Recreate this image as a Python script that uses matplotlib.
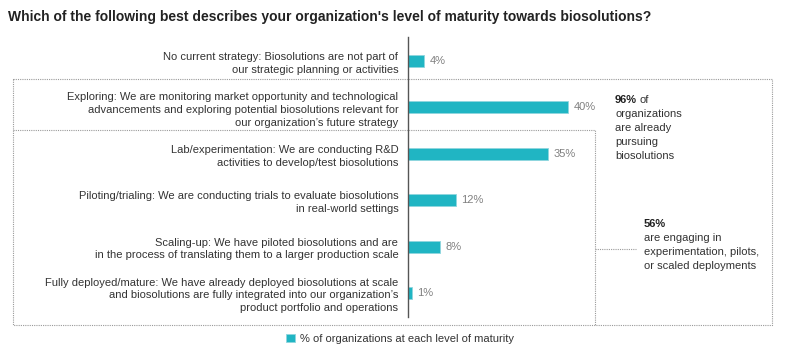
import matplotlib.pyplot as plt
from matplotlib.lines import Line2D
from matplotlib.patches import Patch

plt.rcParams['font.family'] = ['Liberation Sans', 'DejaVu Sans']

TITLE = "Which of the following best describes your organization's level of maturity towards biosolutions?"

stages = [
    "No current strategy: Biosolutions are not part of\nour strategic planning or activities",
    "Exploring: We are monitoring market opportunity and technological\nadvancements and exploring potential biosolutions relevant for\nour organization\u2019s future strategy",
    "Lab/experimentation: We are conducting R&D\nactivities to develop/test biosolutions",
    "Piloting/trialing: We are conducting trials to evaluate biosolutions\nin real-world settings",
    "Scaling-up: We have piloted biosolutions and are\nin the process of translating them to a larger production scale",
    "Fully deployed/mature: We have already deployed biosolutions at scale\nand biosolutions are fully integrated into our organization\u2019s\nproduct portfolio and operations",
]
shares = [4, 40, 35, 12, 8, 1]
legend_label = "% of organizations at each level of maturity"

BAR = "#20b5c3"
W, H = 800, 354


def fx(x):
    return x / W


def fy(y):
    return 1 - y / H


fig = plt.figure(figsize=(W / 100, H / 100), dpi=100)
ax = fig.add_axes([fx(408), fy(317), 200 / W, 280 / H])

ypos = list(range(len(shares)))
ax.barh(ypos, shares, height=0.26, color=BAR, edgecolor="#8fd6de", linewidth=0.6)
for y, v in zip(ypos, shares):
    ax.annotate(f"{v}%", (v, y), xytext=(4, 0), textcoords="offset points",
                va="center", ha="left", fontsize=8, color="#808080")

ax.set_xlim(0, 50)
ax.set_ylim(5.517, -0.517)
ax.set_yticks(ypos, labels=stages, fontsize=8, color="#333333")
for lbl in ax.get_yticklabels():
    lbl.set_linespacing(1.35)
ax.tick_params(axis="y", length=0, pad=7)
ax.set_xticks([])
for s in ["top", "right", "bottom"]:
    ax.spines[s].set_visible(False)
ax.spines["left"].set_color("#555555")
ax.spines["left"].set_linewidth(1)
ax.patch.set_alpha(0)

fig.text(fx(8), fy(17), TITLE, fontsize=10, fontweight="bold", color="#222222", va="center")


def dotted(xs, ys):
    fig.add_artist(Line2D([fx(x) for x in xs], [fy(y) for y in ys], transform=fig.transFigure,
                          color="#9a9a9a", linewidth=0.8, linestyle=(0, (1, 1))))


# outer box (96%)
dotted([13, 772, 772, 13, 13], [79, 79, 325, 325, 79])
# inner box (56%)
dotted([13, 595, 595], [130, 130, 325])
dotted([595, 636], [249, 249])

# callouts
fig.text(fx(615), fy(100), "96%", fontsize=8, fontweight="bold", color="#222222", va="center")
fig.text(fx(640), fy(100), "of", fontsize=8, color="#333333", va="center")
for i, line in enumerate(["organizations", "are already", "pursuing", "biosolutions"]):
    fig.text(fx(615), fy(114 + i * 14), line, fontsize=8, color="#333333", va="center")

fig.text(fx(644), fy(224), "56%", fontsize=8, fontweight="bold", color="#222222", va="center")
for i, line in enumerate(["are engaging in", "experimentation, pilots,", "or scaled deployments"]):
    fig.text(fx(644), fy(238 + i * 14), line, fontsize=8, color="#333333", va="center")

fig.legend(handles=[Patch(facecolor=BAR, edgecolor="#8fd6de", linewidth=0.6, label=legend_label)],
           loc="center", bbox_to_anchor=(fx(400), fy(339)), frameon=False, fontsize=8,
           handlelength=0.8, handleheight=0.8, handletextpad=0.5, labelcolor="#333333")

fig.savefig("out.png", dpi=100)
